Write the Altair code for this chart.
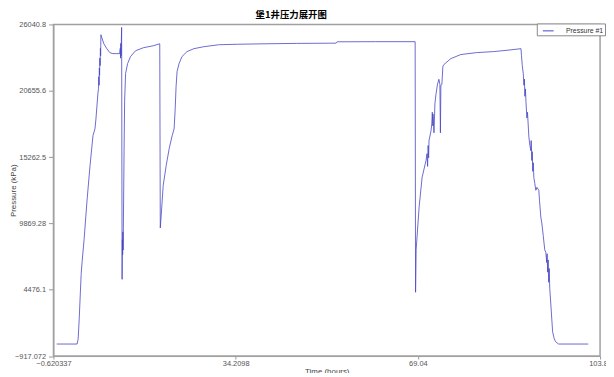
import altair as alt
import pandas as pd

# Time (hours) and pressure (kPa)
time_h = [
    0.0, 3.9, 4.1, 4.3, 4.67, 4.86, 5.23, 5.80, 6.37, 6.93, 7.31, 7.50, 7.88, 8.0,
    8.05, 8.10, 8.15, 8.20, 8.25, 8.30, 8.35, 8.40, 8.45,
    8.64, 9.01, 9.58, 10.15, 10.71, 11.47, 12.03, 12.15, 12.2, 12.25, 12.3,
    12.41, 12.5, 12.55, 12.6, 12.65, 12.7, 12.79, 12.88, 12.98, 13.17, 13.55,
    14.12, 15.06, 16.57, 18.46, 19.7, 19.8,
    19.98, 20.36, 20.93, 21.50, 22.06, 22.44, 22.63, 22.82, 23.01, 23.39, 23.95,
    24.90, 26.22, 28.11, 30.95, 34.52, 40.19, 45.86, 53.42, 53.61, 60.98, 68.52, 68.6,
    68.71, 69.28, 69.85, 70.60, 70.79, 70.9, 71.0, 71.1, 71.17, 71.55, 71.7, 71.8,
    71.9, 71.93, 72.12, 72.3, 72.50, 72.8, 73.06, 73.25, 73.35, 73.44, 73.63, 73.82,
    74.01, 75.33, 77.22, 80.24, 83.46, 86.29, 88.75,
    88.85, 89.0, 89.2, 89.32, 89.4, 89.5, 89.6, 89.70, 89.88, 90.0, 90.26, 90.45,
    90.64, 90.7, 90.83, 90.9, 91.0, 91.1, 91.21, 91.4, 91.59, 91.8, 92.16, 92.3,
    92.54, 92.73, 93.0, 93.29, 93.5, 93.67, 93.75, 93.85, 93.95, 94.05, 94.15,
    94.25, 94.43, 94.80, 95.1, 95.37, 95.94, 101.61,
]
pressure_kpa = [
    60, 60, 490, 2100, 5720, 6770, 8540, 11760, 14570, 16990, 17550, 18360, 20450, 20850,
    21800, 21100, 22500, 21900, 23300, 22700, 24100, 23500, 25200,
    24950, 24470, 24070, 23750, 23670, 23670, 23670, 24100, 23300, 24500, 23500,
    25800, 5320, 8540, 7330, 9180, 7700, 11760, 15800, 19800, 22060, 22860,
    23430, 23900, 24150, 24310, 24470, 9500,
    10550, 12960, 14570, 15940, 16990, 17550, 19000, 21000, 22220, 22860, 23430,
    23830, 24070, 24230, 24390, 24430, 24470, 24500, 24520, 24630, 24640, 24640, 4270,
    7730, 11190, 13610, 14980, 15540, 14500, 16200, 15200, 16600, 17390, 17950, 18900,
    17800, 18760, 17230, 19600, 20370, 21200, 21580, 21170, 17230, 21100, 21170, 22620,
    22780, 23260, 23590, 23750, 23830, 23950, 24070,
    23500, 22700, 22000, 21100, 21600, 20200, 20800, 19800, 18440, 18900, 16900, 16200,
    15780, 16600, 14980, 15700, 14100, 14800, 13600, 13100, 12560, 12800, 12560, 11700,
    10390, 9910, 8900, 7730, 7500, 6690, 7400, 5900, 6900, 5080, 6200,
    4600, 3470, 1060, 500, 250, 60, 60,
]
series_name = "Pressure #1"

x_ticks = [-0.620337, 34.2098, 69.04, 103.87]
y_ticks = [-917.072, 4476.1, 9869.28, 15262.5, 20655.6, 26040.8]

df = pd.DataFrame({
    "t": time_h,
    "p": pressure_kpa,
    "order": list(range(len(time_h))),
    "series": [series_name] * len(time_h),
})

label_font = "Liberation Sans"

chart = alt.Chart(df).mark_line(strokeWidth=0.8, clip=True).encode(
    x=alt.X(
        "t:Q",
        scale=alt.Scale(domain=[x_ticks[0], x_ticks[-1]], nice=False, zero=False),
        axis=alt.Axis(
            values=x_ticks, format=".6~g", title="Time (hours)", grid=False,
            labelFont=label_font, labelFontSize=7.5, labelColor="#555",
            titleFont=label_font, titleFontSize=8, titleFontWeight="normal", titleColor="#444",
            titlePadding=0, labelPadding=1, tickSize=3, tickColor="#999",
            domainColor="#a0a0a0", labelFlush=False,
        ),
    ),
    y=alt.Y(
        "p:Q",
        scale=alt.Scale(domain=[y_ticks[0], y_ticks[-1]], nice=False, zero=False),
        axis=alt.Axis(
            values=y_ticks, format=".6~g", title="Pressure (kPa)", grid=False,
            labelFont=label_font, labelFontSize=7.5, labelColor="#555",
            titleFont=label_font, titleFontSize=8, titleFontWeight="normal", titleColor="#444",
            titleX=-40, titleY=167.75, titleAlign="center", titleBaseline="middle",
            labelPadding=3, tickSize=5, tickColor="#999",
            domainColor="#a0a0a0", labelFlush=False,
        ),
    ),
    order="order:Q",
    color=alt.Color(
        "series:N",
        scale=alt.Scale(domain=[series_name], range=["#4646c4"]),
        legend=alt.Legend(
            title=None, orient="none", legendX=489, legendY=-1,
            strokeColor="#888", fillColor="white", padding=1.5,
            symbolType="stroke", symbolSize=121, symbolStrokeWidth=1, symbolOffset=4,
            labelFont=label_font, labelFontSize=7, labelColor="#333", labelOffset=12,
        ),
    ),
).properties(
    width=553,
    height=335.5,
    title=alt.TitleParams(
        "堡1井压力展开图", font="Noto Sans CJK SC", fontSize=9.5, fontWeight="bold",
        color="black", anchor="middle", offset=1, dx=-36,
    ),
    autosize=alt.AutoSizeParams(type="none"),
    padding={"left": 46, "top": 14.5, "right": 6, "bottom": 15},
).configure_view(stroke="#a0a0a0", strokeWidth=1.5)

chart.save("out.html", embed_options={"renderer": "svg", "actions": False})
